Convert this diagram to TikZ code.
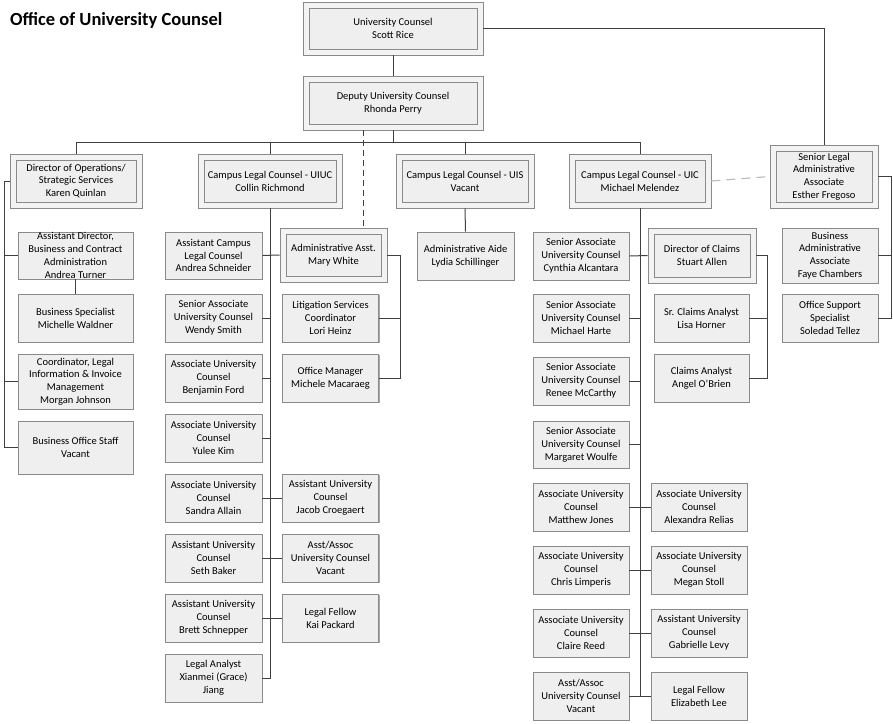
\documentclass[tikz,border=0pt]{standalone}
\usepackage{fontspec}
\setmainfont{Carlito}
\usetikzlibrary{shadows}
\definecolor{boxfill}{HTML}{EFEFEF}
\definecolor{outerfill}{HTML}{F3F3F3}
\definecolor{boxline}{HTML}{8A8A8A}
\definecolor{shadowc}{HTML}{A8A8A8}
\definecolor{linec}{HTML}{404040}
\definecolor{dashc}{HTML}{BDBDBD}
\tikzset{
  boxtext/.style={font=\fontsize{10.5}{12.8}\selectfont, align=center, inner sep=0pt},
  box/.style={boxtext, draw=boxline, fill=boxfill, line width=0.8pt,
    drop shadow={shadow xshift=1.4pt, shadow yshift=-1.4pt, fill=shadowc, opacity=1}},
  outerbox/.style={draw=boxline, fill=outerfill, line width=0.8pt, inner sep=0pt,
    drop shadow={shadow xshift=1.4pt, shadow yshift=-1.4pt, fill=shadowc, opacity=1}},
  innerbox/.style={boxtext, draw=boxline, fill=boxfill, line width=0.8pt},
  conn/.style={draw=linec, line width=1pt},
  dashconn/.style={conn, dash pattern=on 6pt off 4pt},
  graydash/.style={draw=dashc, line width=1.2pt, dash pattern=on 9pt off 6pt},
  titletext/.style={font=\fontsize{18.5}{22}\selectfont\bfseries, inner sep=0pt, anchor=base west}
}
\newcommand\mybox[5]{\node[box, minimum width=#3pt, minimum height=#4pt] (#1) at (#2) {#5};}
\newcommand\dblbox[5]{\node[outerbox, minimum width=#3pt, minimum height=#4pt] (#1) at (#2) {};
  \node[innerbox, minimum width=#3pt-12pt, minimum height=#4pt-12pt] (#1i) at (#2) {#5};}
\begin{document}
\begin{tikzpicture}[x=1pt,y=-1pt]
\useasboundingbox (0,0) rectangle (893,723);
\node[titletext] (title) at (10,25) {Office of University Counsel};

% double boxes
\dblbox{uc}{393,28.5}{180}{53}{University Counsel\\Scott Rice}
\dblbox{dep}{393,103}{180}{54}{Deputy University Counsel\\Rhonda Perry}
\dblbox{ops}{76,181}{132}{54}{Director of Operations/\\Strategic Services\\Karen Quinlan}
\dblbox{uiuc}{270,181}{144}{54}{Campus Legal Counsel - UIUC\\Collin Richmond}
\dblbox{uis}{465,181}{138}{54}{Campus Legal Counsel - UIS\\Vacant}
\dblbox{uic}{640,181}{142}{54}{Campus Legal Counsel - UIC\\Michael Melendez}
\dblbox{srl}{824,176.5}{108}{63}{Senior Legal\\Administrative\\Associate\\Esther Fregoso}
\dblbox{mw}{333.5,255}{107}{54}{Administrative Asst.\\Mary White}
\dblbox{dc}{702,255.5}{108}{55}{Director of Claims\\Stuart Allen}

% operations column
\mybox{ad}{75.5,255.5}{115}{47}{Assistant Director,\\Business and Contract\\Administration\\Andrea Turner}
\mybox{bs}{75.5,318}{115}{48}{Business Specialist\\Michelle Waldner}
\mybox{coord}{75.5,381.5}{115}{55}{Coordinator, Legal\\Information \& Invoice\\Management\\Morgan Johnson}
\mybox{bos}{75.5,447.5}{115}{53}{Business Office Staff\\Vacant}

% UIUC column
\mybox{acl}{213.5,255.5}{97}{47}{Assistant Campus\\Legal Counsel\\Andrea Schneider}
\mybox{ws}{213.5,318}{97}{48}{Senior Associate\\University Counsel\\Wendy Smith}
\mybox{bf}{213.5,378}{97}{48}{Associate University\\Counsel\\Benjamin Ford}
\mybox{yk}{213.5,438}{97}{48}{Associate University\\Counsel\\Yulee Kim}
\mybox{sa}{213.5,498}{97}{48}{Associate University\\Counsel\\Sandra Allain}
\mybox{sb}{213.5,558}{97}{48}{Assistant University\\Counsel\\Seth Baker}
\mybox{bsc}{213.5,618}{97}{48}{Assistant University\\Counsel\\Brett Schnepper}
\mybox{la}{213.5,678}{97}{48}{Legal Analyst\\Xianmei (Grace)\\Jiang}

\mybox{lsc}{330.5,318}{96}{48}{Litigation Services\\Coordinator\\Lori Heinz}
\mybox{om}{330.5,378}{96}{48}{Office Manager\\Michele Macaraeg}
\mybox{jc}{330.5,498}{96}{48}{Assistant University\\Counsel\\Jacob Croegaert}
\mybox{aav}{330.5,558}{96}{48}{Asst/Assoc\\University Counsel\\Vacant}
\mybox{kp}{330.5,618}{96}{48}{Legal Fellow\\Kai Packard}

% UIS
\mybox{aide}{465.5,256}{97}{48}{Administrative Aide\\Lydia Schillinger}

% UIC column
\mybox{ca}{581,256}{96}{48}{Senior Associate\\University Counsel\\Cynthia Alcantara}
\mybox{mh}{581,318}{96}{48}{Senior Associate\\University Counsel\\Michael Harte}
\mybox{rm}{581,381}{96}{48}{Senior Associate\\University Counsel\\Renee McCarthy}
\mybox{mwo}{581,444.5}{96}{47}{Senior Associate\\University Counsel\\Margaret Woulfe}
\mybox{mj}{581,507}{96}{48}{Associate University\\Counsel\\Matthew Jones}
\mybox{cl}{581,570}{96}{48}{Associate University\\Counsel\\Chris Limperis}
\mybox{cr}{581,633}{96}{48}{Associate University\\Counsel\\Claire Reed}
\mybox{vac}{581,696}{96}{48}{Asst/Assoc\\University Counsel\\Vacant}

\mybox{sca}{701.5,318}{95}{48}{Sr. Claims Analyst\\Lisa Horner}
\mybox{caa}{701.5,378}{95}{48}{Claims Analyst\\Angel O’Brien}
\mybox{ar}{699,507}{96}{48}{Associate University\\Counsel\\Alexandra Relias}
\mybox{ms}{699,570}{96}{48}{Associate University\\Counsel\\Megan Stoll}
\mybox{gl}{699,633}{96}{48}{Assistant University\\Counsel\\Gabrielle Levy}
\mybox{el}{699,696}{96}{48}{Legal Fellow\\Elizabeth Lee}

% senior legal column
\mybox{baa}{830,255.5}{96}{55}{Business\\Administrative\\Associate\\Faye Chambers}
\mybox{oss}{830,318}{96}{48}{Office Support\\Specialist\\Soledad Tellez}

% coordinates for buses
\coordinate (bus) at (393,142);
\coordinate (opsbus) at (4.5,0);
\coordinate (mwd) at (363,0);
\coordinate (mwr) at (400,0);
\coordinate (dcr) at (767,0);
\coordinate (slr) at (891.5,0);

% top connectors
\draw[conn] (uc.south) -- (dep.north);
\draw[conn] (uc.east) -| (srl.north);
\draw[conn] (dep.south) -- (bus);
\draw[conn] (bus) -| (ops.north);
\draw[conn] (bus) -| (uiuc.north);
\draw[conn] (bus) -| (uis.north);
\draw[conn] (bus) -| (uic.north);
\draw[dashconn] (dep.south -| mwd) -- (mw.north -| mwd);
\draw[graydash] (uic.east) -- (srl.west);

% operations
\draw[conn] (ops.west) -- (ops.west -| opsbus) |- (bos.west);
\draw[conn] (ad.west -| opsbus) -- (ad.west);
\draw[conn] (coord.west -| opsbus) -- (coord.west);
\draw[conn] (ad.south) -- (bs.north);

% UIUC
\draw[conn] (uiuc.south) -- (uiuc.south |- la.east) -- (la.east);
\draw[conn] (acl.east) -- (mw.west);
\draw[conn] (ws.east) -- (ws.east -| uiuc.south);
\draw[conn] (bf.east) -- (bf.east -| uiuc.south);
\draw[conn] (yk.east) -- (yk.east -| uiuc.south);
\draw[conn] (sa.east) -- (jc.west);
\draw[conn] (sb.east) -- (aav.west);
\draw[conn] (bsc.east) -- (kp.west);
\draw[conn] (mw.east) -- (mw.east -| mwr) |- (om.east);
\draw[conn] (lsc.east) -- (lsc.east -| mwr);

% UIS
\draw[conn] (uis.south) -- (aide.north);

% UIC
\draw[conn] (uic.south) -- (uic.south |- vac.east);
\draw[conn] (ca.east) -- (dc.west);
\draw[conn] (mh.east) -- (mh.east -| uic.south);
\draw[conn] (rm.east) -- (rm.east -| uic.south);
\draw[conn] (mwo.east) -- (mwo.east -| uic.south);
\draw[conn] (mj.east) -- (ar.west);
\draw[conn] (cl.east) -- (ms.west);
\draw[conn] (cr.east) -- (gl.west);
\draw[conn] (vac.east) -- (el.west);
\draw[conn] (dc.east) -- (dc.east -| dcr) |- (caa.east);
\draw[conn] (sca.east) -- (sca.east -| dcr);

% senior legal
\draw[conn] (srl.east) -- (srl.east -| slr) |- (oss.east);
\draw[conn] (baa.east) -- (baa.east -| slr);
\end{tikzpicture}
\end{document}
